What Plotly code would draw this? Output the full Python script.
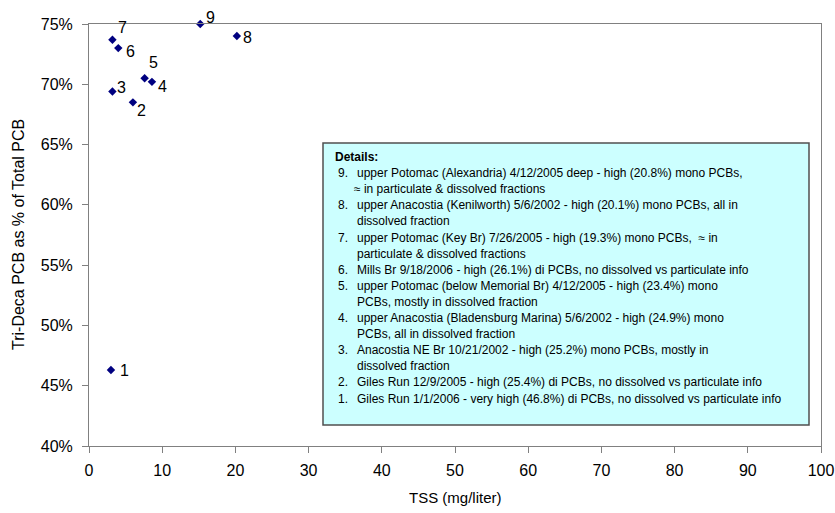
import plotly.graph_objects as go

# ---- data ----
point_labels = ["1", "2", "3", "4", "5", "6", "7", "8", "9"]
tss_mg_l = [3.0, 6.0, 3.2, 8.6, 7.6, 4.0, 3.2, 20.2, 15.2]
trideca_frac = [0.463, 0.685, 0.694, 0.702, 0.705, 0.730, 0.737, 0.740, 0.750]

details_title = "Details:"
detail_numbers = ["9.", "8.", "7.", "6.", "5.", "4.", "3.", "2.", "1."]
detail_lines = [
    ["upper Potomac (Alexandria) 4/12/2005 deep - high (20.8%) mono PCBs,",
     "\u2248 in particulate &amp; dissolved fractions"],
    ["upper Anacostia (Kenilworth) 5/6/2002 - high (20.1%) mono PCBs, all in",
     "dissolved fraction"],
    ["upper Potomac (Key Br) 7/26/2005 - high (19.3%) mono PCBs,  \u2248 in",
     "particulate &amp; dissolved fractions"],
    ["Mills Br 9/18/2006 - high (26.1%) di PCBs, no dissolved vs particulate info"],
    ["upper Potomac (below Memorial Br) 4/12/2005 - high (23.4%) mono",
     "PCBs, mostly in dissolved fraction"],
    ["upper Anacostia (Bladensburg Marina) 5/6/2002 - high (24.9%) mono",
     "PCBs, all in dissolved fraction"],
    ["Anacostia NE Br 10/21/2002 - high (25.2%) mono PCBs, mostly in",
     "dissolved fraction"],
    ["Giles Run 12/9/2005 - high (25.4%) di PCBs, no dissolved vs particulate info"],
    ["Giles Run 1/1/2006 - very high (46.8%) di PCBs, no dissolved vs particulate info"],
]

x_title = "TSS (mg/liter)"
y_title = "Tri-Deca PCB as % of Total PCB"
x_ticks = list(range(0, 101, 10))
y_ticks = [0.40, 0.45, 0.50, 0.55, 0.60, 0.65, 0.70, 0.75]

# ---- style: label pixel offsets (dx right, dy up) ----
label_shift = [(14, 0), (9, -8), (9, 4), (11, -5), (9, 16), (12, -3), (10, 12), (11, -1), (10, 7)]

# ---- layout geometry (pixels) ----
W, H = 835, 513
ML, MR, MT, MB = 89, 14, 24, 67
PW, PH = W - ML - MR, H - MT - MB


def px(xp):
    return (xp - ML) / PW


def py(yp):
    return 1 - (yp - MT) / PH


FONT = "Liberation Sans, Arial, sans-serif"

fig = go.Figure()
fig.add_trace(go.Scatter(
    x=tss_mg_l, y=trideca_frac, mode="markers",
    marker=dict(symbol="diamond", size=6.5, color="#000080"),
    cliponaxis=False, showlegend=False, hoverinfo="x+y",
))

annotations = []
for lab, xv, yv, (dx, dy) in zip(point_labels, tss_mg_l, trideca_frac, label_shift):
    annotations.append(dict(x=xv, y=yv, xref="x", yref="y", text=lab, showarrow=False,
                            xanchor="center", yanchor="middle", xshift=dx, yshift=dy,
                            font=dict(family=FONT, size=16, color="black")))

shapes = [dict(type="rect", xref="paper", yref="paper",
               x0=px(323), x1=px(809), y0=py(425), y1=py(143),
               fillcolor="#CCFFFF", line=dict(color="#505050", width=1.5), layer="above")]

annotations.append(dict(xref="paper", yref="paper", x=px(333), y=py(157),
                        xanchor="left", yanchor="middle", showarrow=False,
                        text="<b>" + details_title + "</b>",
                        font=dict(family=FONT, size=12, color="black")))
row = 1
for num, lines in zip(detail_numbers, detail_lines):
    annotations.append(dict(xref="paper", yref="paper", x=px(336), y=py(157 + row * 16.1),
                            xanchor="left", yanchor="middle", showarrow=False,
                            text=num, font=dict(family=FONT, size=12, color="black")))
    for ln in lines:
        xs = 352 if ln.startswith("\u2248") else 355
        annotations.append(dict(xref="paper", yref="paper", x=px(xs), y=py(157 + row * 16.1),
                                xanchor="left", yanchor="middle", showarrow=False,
                                text=ln, font=dict(family=FONT, size=12, color="black")))
        row += 1

# axis titles
annotations.append(dict(xref="paper", yref="paper", x=px(455), y=py(497),
                        xanchor="center", yanchor="middle", showarrow=False,
                        text=x_title, font=dict(family=FONT, size=15, color="black")))
annotations.append(dict(xref="paper", yref="paper", x=px(18), y=py(235),
                        xanchor="center", yanchor="middle", showarrow=False, textangle=-90,
                        text=y_title, font=dict(family=FONT, size=16, color="black")))

fig.update_layout(
    width=W, height=H,
    margin=dict(l=ML, r=MR, t=MT, b=MB, pad=0, autoexpand=False),
    paper_bgcolor="white", plot_bgcolor="white",
    font=dict(family=FONT, size=16, color="black"),
    shapes=shapes, annotations=annotations,
    xaxis=dict(range=[0, 100], tickvals=x_ticks, showgrid=False, zeroline=False,
               showline=True, linecolor="#808080", linewidth=1, mirror=True,
               ticks="outside", ticklen=6, tickcolor="#808080", automargin=False,
               ticklabelstandoff=4, tickfont=dict(family=FONT, size=16)),
    yaxis=dict(range=[0.40, 0.75], tickvals=y_ticks, tickformat=".0%", showgrid=False,
               zeroline=False, showline=True, linecolor="#808080", linewidth=1, mirror=True,
               ticks="outside", ticklen=6, tickcolor="#808080", automargin=False,
               ticklabelstandoff=6, tickfont=dict(family=FONT, size=16)),
)

fig.write_html("out.html", config={"displayModeBar": False},
               post_script="document.body.style.margin='0px';")
